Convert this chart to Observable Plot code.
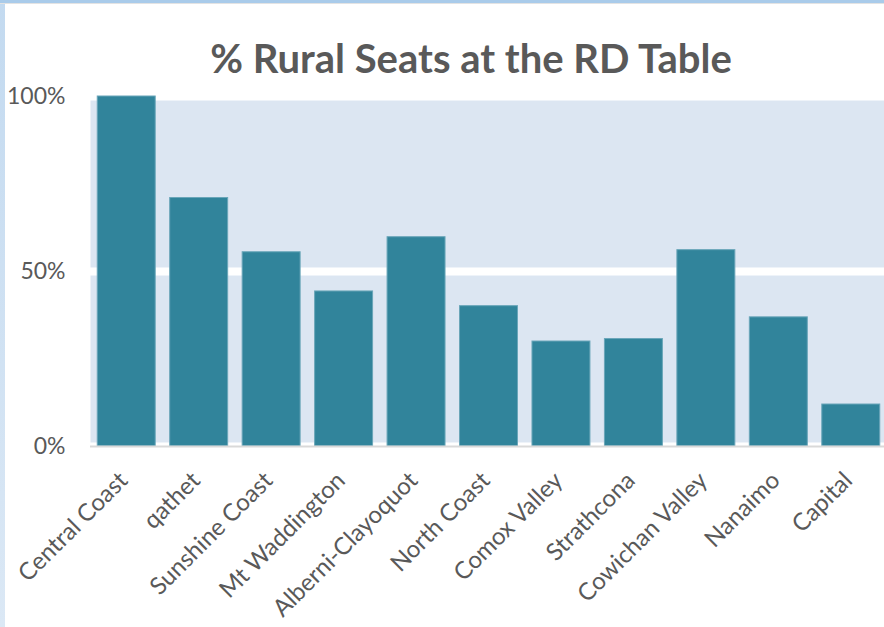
<!DOCTYPE html>
<html>
<head>
<meta charset="utf-8">
<script src="https://cdn.jsdelivr.net/npm/d3@7"></script>
<script src="https://cdn.jsdelivr.net/npm/@observablehq/plot@0.6"></script>
<style>
  html, body { margin: 0; padding: 0; background: #fff; }
  #page { position: relative; width: 884px; height: 627px; overflow: hidden; background: #fff; }
  #title { height: 80px; width: 942px; text-align: center; font-family: "Lato", sans-serif; font-weight: 700;
           font-size: 40px; color: #595959; line-height: 80px; box-sizing: border-box; padding-top: 18px; white-space: nowrap; }
  #chart svg { display: block; overflow: hidden; }
  #bleft { position: absolute; left: 0; top: 0; width: 5px; height: 627px; background: linear-gradient(#c3daf0, #dbe8f5); }
  #btop { position: absolute; left: 0; top: 0; width: 884px; height: 3px; background: #a9cbea; border-bottom: 1px solid #e3e3e3; }
</style>
</head>
<body>
<div id="page">
  <div id="title">% Rural Seats at the RD Table</div>
  <div id="chart"></div>
  <div id="bleft"></div>
  <div id="btop"></div>
</div>
<script>
const regions = ["Central Coast", "qathet", "Sunshine Coast", "Mt Waddington", "Alberni-Clayoquot", "North Coast", "Comox Valley", "Strathcona", "Cowichan Valley", "Nanaimo", "Capital"];
const ruralShare = [1.00, 0.71, 0.555, 0.443, 0.598, 0.401, 0.300, 0.307, 0.561, 0.369, 0.120];
const yTicks = [0, 0.5, 1];

const data = regions.map((r, i) => ({region: r, value: ruralShare[i]}));

const chart = Plot.plot({
  width: 884,
  height: 547,
  marginTop: 16,
  marginBottom: 181,
  marginLeft: 90,
  marginRight: -3,
  style: {fontFamily: "Lato, sans-serif", fontSize: "23px", color: "#595959", background: "transparent"},
  x: {domain: regions, paddingInner: 0.2, paddingOuter: 0.1, round: false, label: null, axis: null},
  y: {domain: [0, 1], ticks: yTicks, tickFormat: d3.format(".0%"), label: null, tickSize: 0, tickPadding: 25},
  marks: [
    Plot.frame({fill: "#dce6f2", stroke: null}),
    Plot.ruleY(yTicks, {stroke: "#ffffff", strokeWidth: 8}),
    Plot.barY(data, {x: "region", y: "value", fill: "#31849b", stroke: "#6aa6b9", strokeWidth: 1}),
    Plot.ruleY([0], {stroke: "#d9d9d9", strokeWidth: 2}),
    Plot.axisX({tickSize: 0, tickRotate: -45, tickPadding: 10, dx: -3, dy: 20, fontSize: 24, label: null})
  ]
});
document.getElementById("chart").appendChild(chart);
</script>
</body>
</html>
